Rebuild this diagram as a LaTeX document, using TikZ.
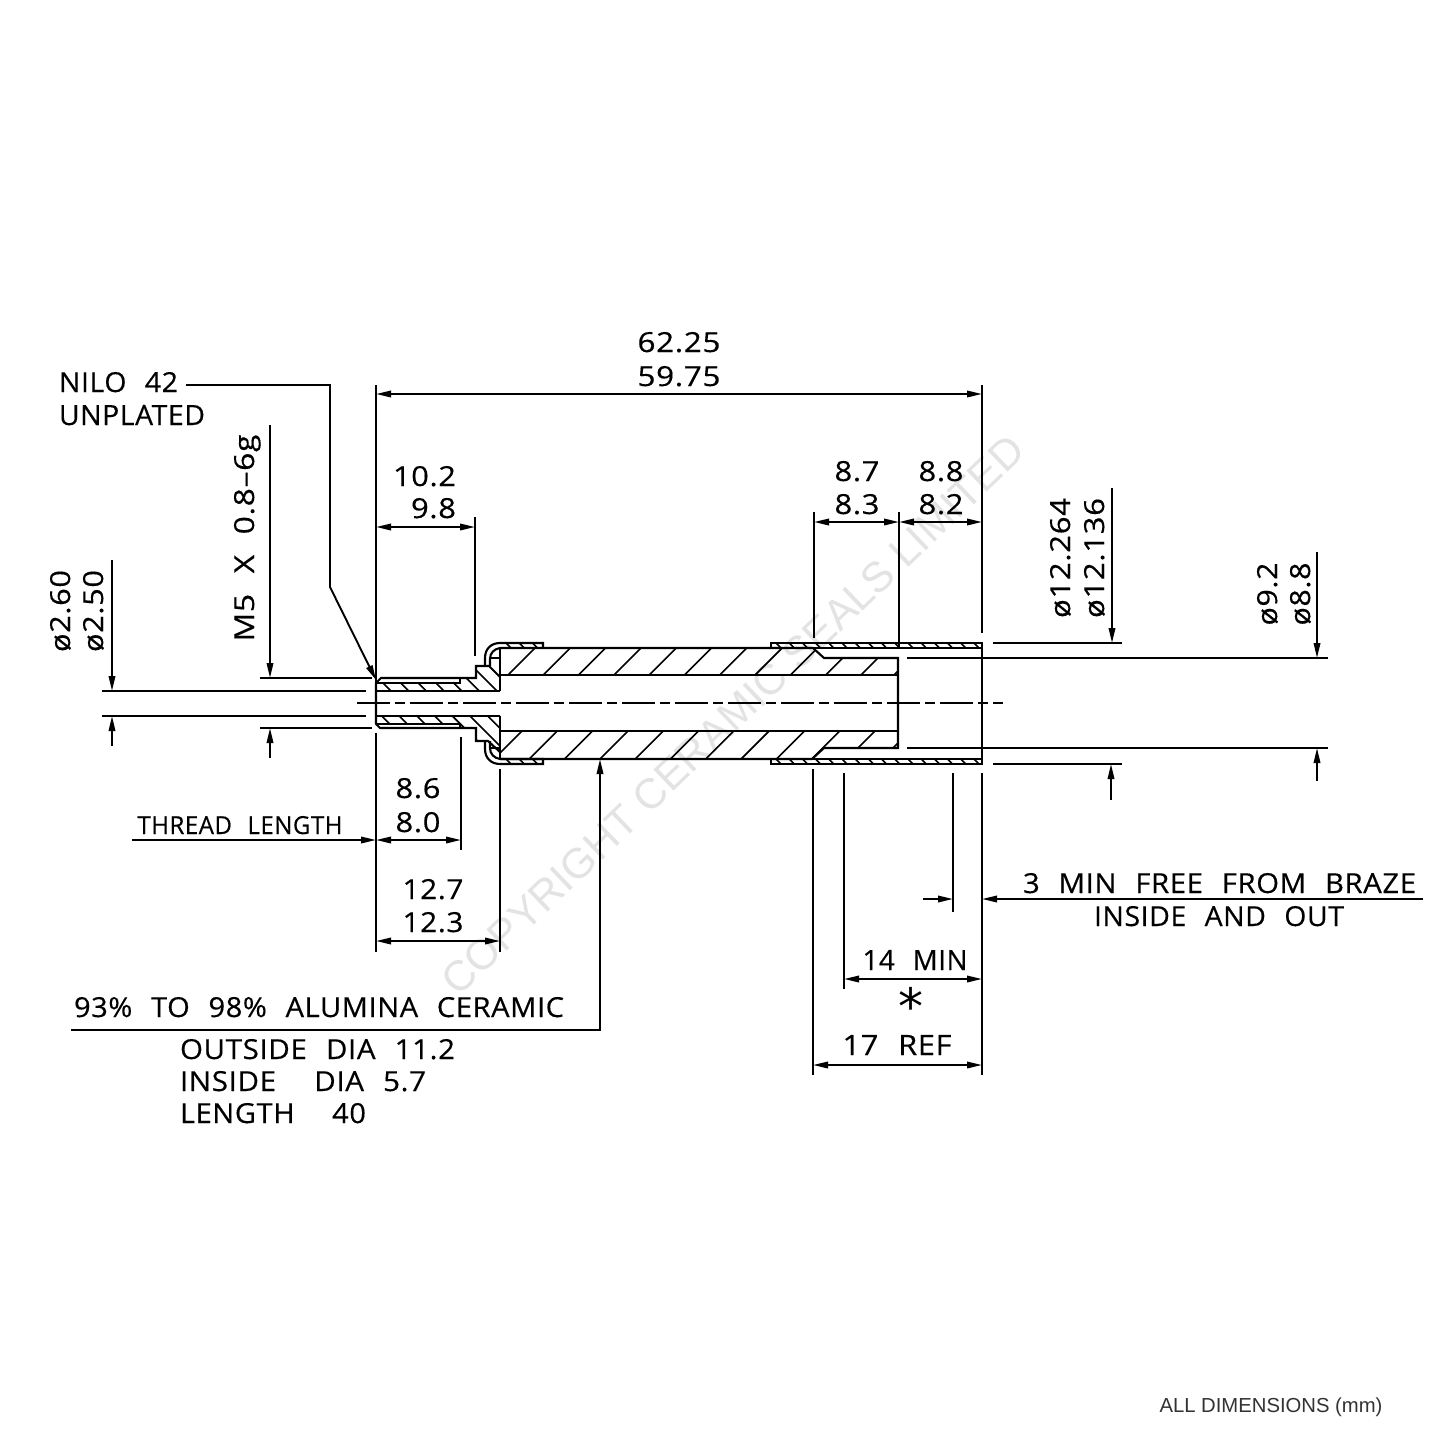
\documentclass[tikz,border=0pt]{standalone}
\usepackage{graphicx}
\usepackage{fontspec}
\setmainfont[WordSpace=2.3,LetterSpace=2,FakeBold=0.35]{Open Sans}
\newfontfamily\wmfont{Liberation Sans}
\newfontfamily\astfont{DejaVu Sans}
\usetikzlibrary{arrows.meta}
\tikzset{
  obj/.style={line width=2.1pt,line join=miter},
  hatchline/.style={line width=1.6pt},
  ext/.style={line width=1.9pt},
  leader/.style={line width=1.9pt},
  dimarrow/.style={line width=1.9pt,{Triangle[length=15pt,width=6.5pt]}-{Triangle[length=15pt,width=6.5pt]}},
  endarrow/.style={line width=1.9pt,-{Triangle[length=15pt,width=6.5pt]}},
  centre/.style={line width=1.9pt,dash pattern=on 33pt off 5pt on 10pt off 5pt},
  txt/.style={inner sep=0pt,outer sep=0pt,anchor=base,text=black}
}
% name, centre x, baseline y, width, height, text
\newcommand{\lbl}[6]{\node[txt] (#1) at (#2,#3) {\resizebox{#4pt}{#5pt}{\fontsize{28pt}{30pt}\selectfont #6}};}
\newcommand{\rlbl}[6]{\node[txt,rotate=90] (#1) at (#2,#3) {\resizebox{#4pt}{#5pt}{\fontsize{28pt}{30pt}\selectfont #6}};}
\begin{document}
\begin{tikzpicture}[x=1pt,y=-1pt]
\useasboundingbox (0,0) rectangle (1440,1440);
\fill[white] (0,0) rectangle (1440,1440);
% watermark
\node[inner sep=0pt,rotate=43.7,text=black!11] (wm) at (733,715) {\wmfont\fontsize{42.4pt}{44pt}\selectfont COPYRIGHT CERAMIC SEALS LIMITED};

% ---- hatching ----
\begin{scope}
\clip (500,648) -- (813,648) -- (824,658) -- (898,658) -- (898,675) -- (500,675) -- cycle;
\foreach \k in {0,...,10} \draw[hatchline] ({1183+35.3*\k-640},640) -- ({1183+35.3*\k-680},680);
\end{scope}
\begin{scope}
\clip (500,731) -- (898,731) -- (898,748) -- (824,748) -- (812,759) -- (500,759) -- cycle;
\foreach \k in {0,...,10} \draw[hatchline] ({1253+35.3*\k-725},725) -- ({1253+35.3*\k-765},765);
\end{scope}
\begin{scope}
\clip (771,643) rectangle (982,648);
\foreach \k in {0,...,16} \draw[hatchline] ({776+13.2*\k-3},640) -- ({776+13.2*\k+8},651);
\end{scope}
\begin{scope}
\clip (771,759) rectangle (982,764);
\foreach \k in {0,...,16} \draw[hatchline] ({776+13.2*\k-3},756) -- ({776+13.2*\k+8},767);
\end{scope}
\begin{scope}
\clip (500,643) rectangle (543,648);
\foreach \k in {0,...,3} \draw[hatchline] ({506+13.3*\k-3},640) -- ({506+13.3*\k+8},651);
\end{scope}
\begin{scope}
\clip (500,759) rectangle (543,764);
\foreach \k in {0,...,3} \draw[hatchline] ({506+13.3*\k-3},756) -- ({506+13.3*\k+8},767);
\end{scope}
\begin{scope}
\clip (376,683) -- (460,683) -- (460,678) -- (476,678) -- (476,666) -- (489,666) -- (500,677) -- (500,691) -- (376,691) -- cycle;
\foreach \k in {0,...,6} \draw[hatchline] ({-300+17.67*\k+660},660) -- ({-300+17.67*\k+700},700);
\end{scope}
\begin{scope}
\clip (376,716) -- (500,716) -- (500,752) -- (488,741) -- (476,741) -- (476,728) -- (460,728) -- (460,724) -- (376,724) -- cycle;
\foreach \k in {0,...,6} \draw[hatchline] ({-334.3+17.67*\k+710},710) -- ({-334.3+17.67*\k+760},760);
\end{scope}

% ---- part outlines ----
% ceramic
\draw[obj] (500,648) -- (813,648) -- (824,658) -- (898,658) -- (898,748) -- (824,748) -- (812,759) -- (500,759);
\draw[obj] (500,675) -- (898,675);
\draw[obj] (500,731) -- (898,731);
\draw[obj] (500,648) -- (500,691);
\draw[obj] (500,716) -- (500,759);
\draw[hatchline] (894,675) -- (898,671);
\draw[hatchline] (893,748) -- (898,743);
% tube sleeves
\draw[obj] (771,648) -- (771,643) -- (982,643) -- (982,764) -- (771,764) -- (771,759) -- (982,759);
\draw[obj] (771,648) -- (982,648);
% top ferrule
\draw[obj] (376,716) -- (376,683) -- (381,678) -- (476,678) -- (476,666) -- (489,666) -- (500,677);
\draw[obj] (376,683) -- (460,683) -- (460,678);
\draw[obj] (376,691) -- (500,691);
% bottom ferrule
\draw[obj] (376,716) -- (376,724) -- (380,728) -- (476,728) -- (476,741) -- (488,741) -- (500,752);
\draw[obj] (376,724) -- (460,724) -- (460,728);
\draw[obj] (376,716) -- (500,716);
% end caps
\draw[obj] (485,666) -- (485,658) .. controls (485,649) and (491,643) .. (500,643) -- (543,643) -- (543,648);
\draw[obj] (490,666) -- (490,659) .. controls (490,653) and (494,649) .. (500,648);
\draw[hatchline] (490,658) -- (500,658);
\draw[obj] (485,741) -- (485,749) .. controls (485,758) and (491,764) .. (500,764) -- (543,764) -- (543,759) -- (500,759);
\draw[obj] (490,741) -- (490,748) .. controls (490,754) and (494,758) .. (500,759);
\draw[hatchline] (490,748) -- (500,748);
% centre line
\coordinate (cl0) at (357,703);
\coordinate (cl1) at (1003,703);
\draw[centre] (cl0) -- (cl1);

% ---- extension lines ----
\draw[ext] (376,385) -- (376,683);
\draw[ext] (376,733) -- (376,952);
\draw[ext] (982,385) -- (982,633);
\draw[ext] (982,773) -- (982,1075);
\draw[ext] (475,517) -- (475,656);
\draw[ext] (814,512) -- (814,638);
\draw[ext] (899,512) -- (899,649);
\draw[ext] (461,737) -- (461,850);
\draw[ext] (500,769) -- (500,952);
\draw[ext] (813,769) -- (813,1075);
\draw[ext] (844,773) -- (844,989);
\draw[ext] (953,773) -- (953,912);
\draw[ext] (102,691) -- (366,691);
\draw[ext] (102,716) -- (366,716);
\draw[ext] (260,678) -- (372,678);
\draw[ext] (260,728) -- (372,728);
\draw[ext] (993,643) -- (1122,643);
\draw[ext] (993,764) -- (1122,764);
\draw[ext] (907,658) -- (1328,658);
\draw[ext] (907,748) -- (1328,748);

% ---- dimensions ----
\draw[dimarrow] (376,394) -- (982,394);
\draw[dimarrow] (376,527) -- (475,527);
\draw[dimarrow] (814,522) -- (899,522);
\draw[dimarrow] (899,522) -- (982,522);
\draw[dimarrow] (376,840) -- (461,840);
\draw[dimarrow] (376,941) -- (500,941);
\draw[dimarrow] (844,979) -- (982,979);
\draw[dimarrow] (813,1065) -- (982,1065);
\draw[endarrow] (132,840) -- (376,840);
\draw[endarrow] (1423,899) -- (982,899);
\draw[endarrow] (923,899) -- (953,899);
\draw[endarrow] (112,560) -- (112,691);
\draw[endarrow] (112,746) -- (112,716);
\draw[endarrow] (270,425) -- (270,678);
\draw[endarrow] (270,758) -- (270,728);
\draw[endarrow] (1112,488) -- (1112,643);
\draw[endarrow] (1111,800) -- (1111,764);
\draw[endarrow] (1317,552) -- (1317,658);
\draw[endarrow] (1317,781) -- (1317,748);
\draw[endarrow] (186,385) -- (330,385) -- (330,587) -- (376,680);
\draw[endarrow] (71,1030) -- (600,1030) -- (600,759);

% ---- texts ----
\lbl{a1}{679}{352}{83}{20}{62.25}
\lbl{a2}{679}{386}{83}{20}{59.75}
\lbl{b1}{424.5}{486}{63}{20}{10.2}
\lbl{b2}{433.5}{518}{45}{20}{9.8}
\lbl{c1}{857}{481}{45}{20}{8.7}
\lbl{c2}{857}{514}{45}{20}{8.3}
\lbl{d1}{941}{481}{45}{20}{8.8}
\lbl{d2}{941}{514}{45}{20}{8.2}
\rlbl{e1}{1070}{558}{120}{20}{ø12.264}
\rlbl{e2}{1104}{558}{120}{20}{ø12.136}
\rlbl{f1}{1277}{594}{63}{20}{ø9.2}
\rlbl{f2}{1310}{594}{63}{20}{ø8.8}
\rlbl{g1}{70}{611}{82}{20}{ø2.60}
\rlbl{g2}{103}{611}{82}{20}{ø2.50}
\rlbl{h1}{254}{538}{207}{20}{M5 X 0.8–6g}
\lbl{i1}{118.5}{392}{119}{20}{NILO 42}
\lbl{i2}{132}{425}{146}{20}{UNPLATED}
\lbl{j1}{418}{798}{45}{20}{8.6}
\lbl{j2}{418}{832}{45}{20}{8.0}
\lbl{k1}{240}{834}{205}{18}{THREAD LENGTH}
\lbl{l1}{433}{899}{61}{20}{12.7}
\lbl{l2}{433}{932}{61}{20}{12.3}
\lbl{m1}{319}{1017}{490}{20}{93\% TO 98\% ALUMINA CERAMIC}
\lbl{m2}{317.5}{1059}{275}{20}{OUTSIDE DIA 11.2}
\lbl{m3}{303}{1091}{246}{20}{INSIDE~~DIA 5.7}
\lbl{m4}{273}{1123}{186}{20}{LENGTH~~40}
\lbl{n1}{1219.5}{893}{393}{20}{3 MIN FREE FROM BRAZE}
\lbl{n2}{1219}{926}{250}{20}{INSIDE AND OUT}
\lbl{o1}{915}{970}{105}{20}{14 MIN}
\node[inner sep=0pt] (ast) at (911,1006) {\astfont\fontsize{50pt}{50pt}\selectfont *};
\lbl{p1}{897}{1055}{109}{20}{17 REF}
\node[txt,text=black!80] (note) at (1271,1412) {\resizebox{223pt}{!}{\wmfont\fontsize{20pt}{22pt}\selectfont ALL DIMENSIONS (mm)}};
\end{tikzpicture}
\end{document}
